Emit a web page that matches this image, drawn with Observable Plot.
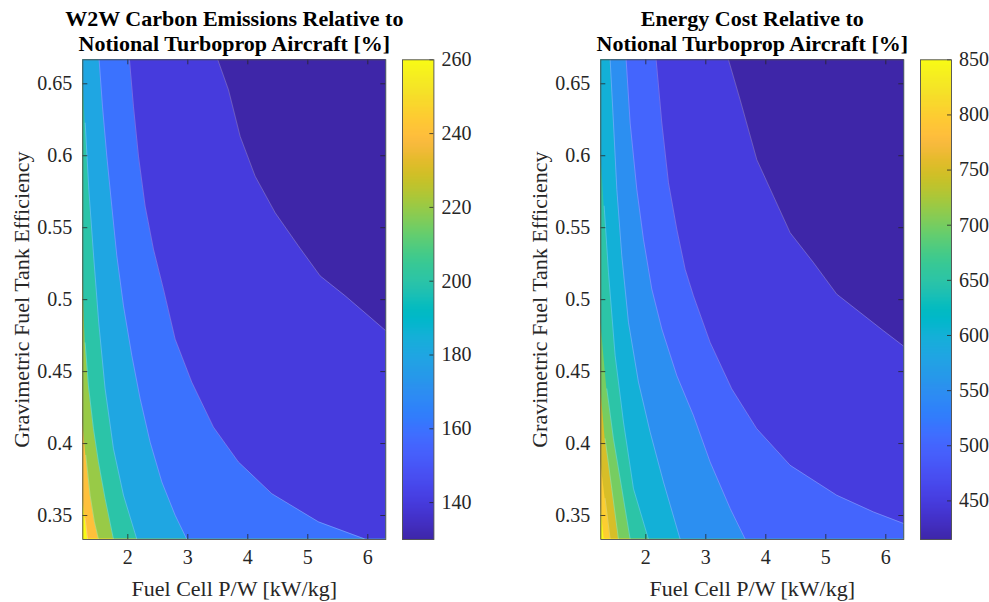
<!DOCTYPE html>
<html>
<head>
<meta charset="utf-8">
<script src="https://cdn.jsdelivr.net/npm/d3@7"></script>
<script src="https://cdn.jsdelivr.net/npm/@observablehq/plot@0.6"></script>
<style>
  html, body { margin: 0; padding: 0; background: #ffffff; }
  #wrap { position: relative; width: 989px; height: 602px; overflow: hidden; background: #ffffff; }
  #wrap > svg { position: absolute; top: 0; }
  #wrap text { font-family: "Liberation Serif", serif; }
</style>
</head>
<body>
<div id="wrap"></div>
<script>
// ---------------- shared axes ----------------
const xDomain = [1.25, 6.3];
const yDomain = [1 / 3, 2 / 3];
const xTicks = [2, 3, 4, 5, 6];
const yTicks = [0.35, 0.4, 0.45, 0.5, 0.55, 0.6, 0.65];
const xLabel = "Fuel Cell P/W [kW/kg]";
const yLabel = "Gravimetric Fuel Tank Efficiency";

// ---------------- left panel: W2W carbon emissions ----------------
const emisTitle = ["W2W Carbon Emissions Relative to", "Notional Turboprop Aircraft [%]"];
const emisRange = [130, 260];
const emisTicks = [140, 160, 180, 200, 220, 240, 260];
const emisLevels = [260, 240, 220, 200, 180, 160, 140];
// contour boundaries [x, y]; higher values lie to the left of each boundary
const emis260 = [[1.25, 0.6667], [1.25, 0.3630], [1.289, 0.3480], [1.330, 0.3336]];
const emis240 = [[1.25, 0.6667], [1.25, 0.4150], [1.300, 0.3918], [1.372, 0.3641], [1.444, 0.3456], [1.511, 0.3336]];
const emis220 = [[1.25, 0.6667], [1.25, 0.5160], [1.289, 0.4700], [1.344, 0.4400], [1.428, 0.4103], [1.511, 0.3872], [1.622, 0.3618], [1.761, 0.3336]];
const emis200 = [[1.25, 0.6667], [1.25, 0.6560], [1.290, 0.6227], [1.350, 0.5766], [1.430, 0.5304], [1.515, 0.4842], [1.622, 0.4380], [1.761, 0.3964], [1.928, 0.3641], [2.150, 0.3336]];
const emis180 = [[1.522, 0.6667], [1.578, 0.6343], [1.650, 0.5997], [1.733, 0.5650], [1.817, 0.5304], [1.928, 0.4957], [2.067, 0.4611], [2.206, 0.4311], [2.372, 0.4010], [2.567, 0.3733], [2.789, 0.3502], [2.983, 0.3336]];
const emis160 = [[2.028, 0.6667], [2.094, 0.6343], [2.178, 0.5997], [2.289, 0.5650], [2.428, 0.5350], [2.594, 0.5073], [2.789, 0.4726], [3.067, 0.4426], [3.428, 0.4114], [3.844, 0.3872], [4.400, 0.3652], [5.178, 0.3456], [5.956, 0.3336]];
const emis140 = [[3.500, 0.6667], [3.678, 0.6458], [3.872, 0.6135], [4.122, 0.5858], [4.456, 0.5604], [4.844, 0.5373], [5.206, 0.5165], [5.622, 0.5027], [6.011, 0.4888], [6.300, 0.4784]];

// ---------------- right panel: energy cost ----------------
const costTitle = ["Energy Cost Relative to", "Notional Turboprop Aircraft [%]"];
const costRange = [415, 850];
const costTicks = [450, 500, 550, 600, 650, 700, 750, 800, 850];
const costLevels = [850, 800, 750, 700, 650, 600, 550, 500, 450];
const cost850 = [[1.25, 0.6667], [1.25, 0.3572], [1.306, 0.3336]];
const cost800 = [[1.25, 0.6667], [1.25, 0.3872], [1.322, 0.3618], [1.406, 0.3336]];
const cost750 = [[1.25, 0.6667], [1.25, 0.4380], [1.322, 0.4033], [1.433, 0.3687], [1.544, 0.3336]];
const cost700 = [[1.25, 0.6667], [1.25, 0.4842], [1.350, 0.4380], [1.461, 0.4033], [1.600, 0.3687], [1.739, 0.3336]];
const cost650 = [[1.25, 0.6667], [1.25, 0.6020], [1.306, 0.5650], [1.378, 0.5188], [1.489, 0.4611], [1.628, 0.4149], [1.794, 0.3687], [2.044, 0.3336]];
const cost600 = [[1.406, 0.6667], [1.461, 0.6227], [1.517, 0.5766], [1.600, 0.5304], [1.711, 0.4842], [1.878, 0.4426], [2.072, 0.4080], [2.294, 0.3733], [2.572, 0.3336]];
const cost550 = [[1.672, 0.6667], [1.739, 0.6227], [1.850, 0.5766], [1.961, 0.5419], [2.100, 0.5073], [2.267, 0.4796], [2.517, 0.4472], [2.794, 0.4195], [3.072, 0.3872], [3.406, 0.3549], [3.656, 0.3336]];
const cost500 = [[2.172, 0.6667], [2.267, 0.6227], [2.378, 0.5812], [2.517, 0.5488], [2.656, 0.5211], [2.794, 0.5027], [3.072, 0.4703], [3.433, 0.4380], [3.850, 0.4103], [4.406, 0.3849], [5.183, 0.3641], [5.794, 0.3525], [6.300, 0.3444]];
const cost450 = [[3.378, 0.6667], [3.572, 0.6389], [3.850, 0.5973], [4.128, 0.5719], [4.406, 0.5465], [4.794, 0.5258], [5.183, 0.5038], [5.572, 0.4911], [5.961, 0.4784], [6.300, 0.4676]];

// parula colormap (64 entries)
const parulaHex = ["#3e26a8","#402ab4","#422ec0","#4332cb","#4537d5","#463cde","#4741e5","#4747eb","#484df0","#4852f4","#4758f8","#465efb","#4563fd","#4269fe","#3e6fff","#3875fe","#327cfc","#2f81fa","#2e87f7","#2d8cf3","#2b91ef","#2797eb","#259be8","#23a0e5","#20a5e3","#1ca9df","#18addb","#12b1d6","#08b5d0","#01b8ca","#02bac3","#0bbdbd","#19bfb6","#24c1ae","#2cc4a7","#31c69f","#37c897","#3fca8e","#4acb84","#57cc7a","#64cd6f","#72cd64","#81cc59","#8fcb4e","#9dc943","#abc739","#b9c431","#c5c22a","#d1bf27","#dcbd29","#e6bb2d","#f0ba36","#f8ba3d","#febe3c","#fec338","#fec934","#fccf30","#fad62d","#f7dc2a","#f5e327","#f5e924","#f6ef20","#f7f51b","#f9fb15"];
const parulaPiece = d3.piecewise(d3.interpolateRgb, parulaHex);
const parula = (t) => parulaPiece(Math.max(0, Math.min(1, t)));

// ---------------- layout ----------------
const H = 602, frameTop = 59.3, frameBottom = 539;
const FONT = "Liberation Serif";
const INK = "#262626";
const tickLen = 5;

function contourPanel({left, width, frameLeft, frameRight, bounds, levels, range, title}) {
  const innerW = frameRight - frameLeft;
  const innerH = frameBottom - frameTop;
  const marks = [];
  // region above the highest level
  const bg = [{x: xDomain[0], y: yDomain[0], v: levels[0]}, {x: xDomain[0], y: yDomain[1], v: levels[0]}];
  marks.push(Plot.areaX(bg, {y: "y", x1: "x", x2: xDomain[1], fill: "v"}));
  const lineRows = [];
  bounds.forEach((pts, i) => {
    const v = i + 1 < levels.length ? levels[i + 1] : range[0];
    const rows = pts.map(([x, y]) => ({x, y, v, level: levels[i]}));
    marks.push(Plot.areaX(rows, {y: "y", x1: "x", x2: xDomain[1], fill: "v"}));
    rows.filter((d) => d.x > xDomain[0]).forEach((d) => lineRows.push(d));
  });
  marks.push(Plot.line(lineRows, {x: "x", y: "y", z: "level", stroke: "#ffffff", strokeOpacity: 0.35, strokeWidth: 0.7}));
  // inward ticks on all four sides
  marks.push(Plot.ruleX(xTicks, {x: (d) => d, insetTop: innerH - tickLen, stroke: INK, strokeWidth: 0.8}));
  marks.push(Plot.ruleX(xTicks, {x: (d) => d, insetBottom: innerH - tickLen, stroke: INK, strokeWidth: 0.8}));
  marks.push(Plot.ruleY(yTicks, {y: (d) => d, insetRight: innerW - tickLen, stroke: INK, strokeWidth: 0.8}));
  marks.push(Plot.ruleY(yTicks, {y: (d) => d, insetLeft: innerW - tickLen, stroke: INK, strokeWidth: 0.8}));
  marks.push(Plot.frame({stroke: "#4d4d4d", strokeWidth: 0.9}));
  marks.push(Plot.axisX({ticks: xTicks, tickSize: 0, tickPadding: 10, tickFormat: (d) => String(d), label: null, fontSize: 20, fontFamily: FONT, fill: INK}));
  marks.push(Plot.axisY({ticks: yTicks, tickSize: 0, tickPadding: 10.5, tickFormat: (d) => String(d), label: null, fontSize: 20, fontFamily: FONT, fill: INK}));
  // titles and axis labels
  marks.push(Plot.text([title[0]], {text: (d) => d, frameAnchor: "top", dy: 25 - frameTop, lineAnchor: "bottom", fontWeight: "bold", fontSize: 22, fontFamily: FONT, fill: "#000"}));
  marks.push(Plot.text([title[1]], {text: (d) => d, frameAnchor: "top", dy: 50 - frameTop, lineAnchor: "bottom", fontWeight: "bold", fontSize: 22, fontFamily: FONT, fill: "#000"}));
  marks.push(Plot.text([xLabel], {text: (d) => d, frameAnchor: "bottom", dy: 595 - frameBottom, lineAnchor: "bottom", fontSize: 22, fontFamily: FONT, fill: INK}));
  marks.push(Plot.text([yLabel], {text: (d) => d, frameAnchor: "left", textAnchor: "middle", rotate: -90, dx: -53.8, lineAnchor: "bottom", fontSize: 22, fontFamily: FONT, fill: INK}));

  const svg = Plot.plot({
    width, height: H,
    marginLeft: frameLeft - left, marginRight: left + width - frameRight,
    marginTop: frameTop, marginBottom: H - frameBottom,
    x: {domain: xDomain},
    y: {domain: yDomain},
    color: {type: "linear", domain: range, interpolate: parula},
    style: {fontFamily: FONT, fontSize: "20px", background: "transparent", color: INK, overflow: "visible"},
    marks
  });
  svg.style.left = left + "px";
  return svg;
}

function colorbarPanel({left, width, frameLeft, frameRight, range, ticks}) {
  const innerW = frameRight - frameLeft;
  const svg = Plot.plot({
    width, height: H,
    marginLeft: frameLeft - left, marginRight: left + width - frameRight,
    marginTop: frameTop, marginBottom: H - frameBottom,
    x: {domain: [0, 1], axis: null},
    y: {domain: range},
    color: {type: "linear", domain: range, interpolate: parula},
    style: {fontFamily: FONT, fontSize: "20px", background: "transparent", color: INK, overflow: "visible"},
    marks: [
      Plot.raster({x1: 0, x2: 1, y1: range[0], y2: range[1], width: 1, height: 400, fill: (x, y) => y}),
      Plot.ruleY(ticks, {y: (d) => d, insetLeft: innerW - 4, stroke: INK, strokeWidth: 0.8}),
      Plot.frame({stroke: "#4d4d4d", strokeWidth: 0.9}),
      Plot.axisY({ticks, anchor: "right", tickSize: 0, tickPadding: 7.5, tickFormat: (d) => String(d), label: null, fontSize: 20, fontFamily: FONT, fill: INK})
    ]
  });
  svg.style.left = left + "px";
  return svg;
}

const wrap = document.getElementById("wrap");
wrap.appendChild(contourPanel({
  left: 0, width: 395, frameLeft: 82.3, frameRight: 385.3,
  bounds: [emis260, emis240, emis220, emis200, emis180, emis160, emis140],
  levels: emisLevels, range: emisRange, title: emisTitle
}));
wrap.appendChild(colorbarPanel({left: 395, width: 100, frameLeft: 402, frameRight: 433.4, range: emisRange, ticks: emisTicks}));
wrap.appendChild(contourPanel({
  left: 500, width: 412, frameLeft: 600.3, frameRight: 903.3,
  bounds: [cost850, cost800, cost750, cost700, cost650, cost600, cost550, cost500, cost450],
  levels: costLevels, range: costRange, title: costTitle
}));
wrap.appendChild(colorbarPanel({left: 912, width: 77, frameLeft: 920, frameRight: 951, range: costRange, ticks: costTicks}));
</script>
</body>
</html>
